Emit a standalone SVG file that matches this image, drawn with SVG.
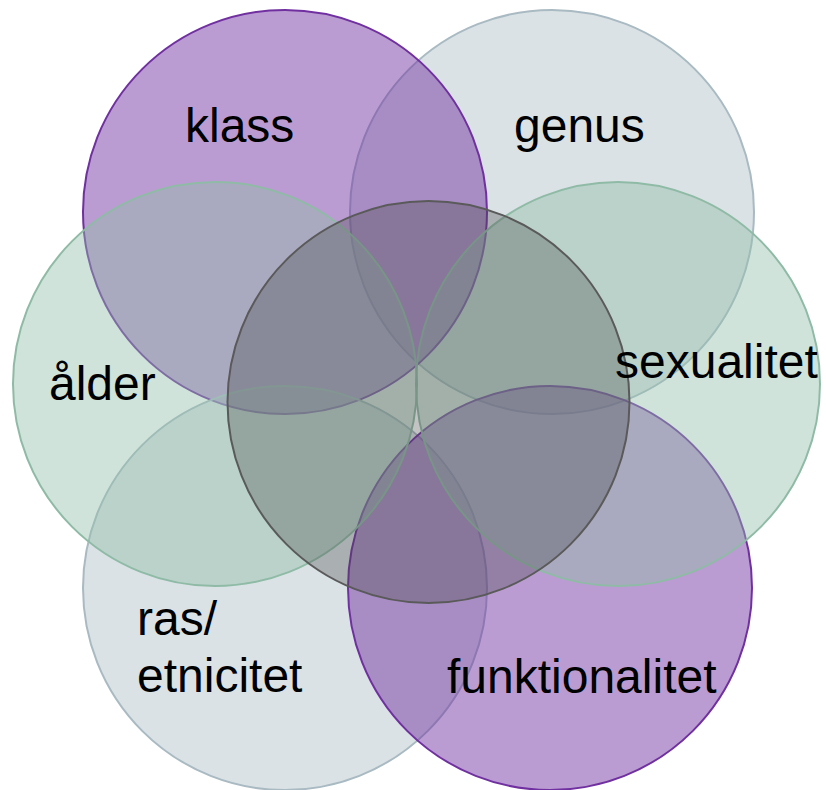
<svg xmlns="http://www.w3.org/2000/svg" width="826" height="790" viewBox="0 0 826 790">
<style>
.c{stroke-width:2}
.p{fill:#7030a0;fill-opacity:0.48;stroke:#7030a0}
.g{fill:#a9bcc3;fill-opacity:0.43;stroke:#a9bac2}
.t{fill:#91bdaa;fill-opacity:0.43;stroke:#8fbba6}
.d{fill:#4a4a4a;fill-opacity:0.33;stroke:#5a5a5a}
text{font-family:"Liberation Sans",Arial,sans-serif;font-size:48px;fill:#000}
</style>
<rect width="826" height="790" fill="#ffffff"/>
<g id="genus"><circle class="c g" cx="552" cy="212" r="202"/></g>
<g id="klass"><circle class="c p" cx="285" cy="212" r="202"/></g>
<g id="ras"><circle class="c g" cx="285" cy="588" r="202"/></g>
<g id="funktionalitet"><circle class="c p" cx="550" cy="588" r="202"/></g>
<g id="sexualitet"><circle class="c t" cx="618" cy="384" r="202"/></g>
<g id="alder"><circle class="c t" cx="215" cy="384" r="202"/></g>
<g id="center"><circle class="c d" cx="428.5" cy="402" r="201"/></g>
<g id="labels">
<text x="185" y="142">klass</text>
<text x="514" y="142">genus</text>
<text x="615" y="378">sexualitet</text>
<text x="447" y="693">funktionalitet</text>
<text x="137" y="635">ras/</text>
<text x="137" y="692">etnicitet</text>
<text x="49" y="400">ålder</text>
</g>
<g id="connectors"></g>
</svg>
